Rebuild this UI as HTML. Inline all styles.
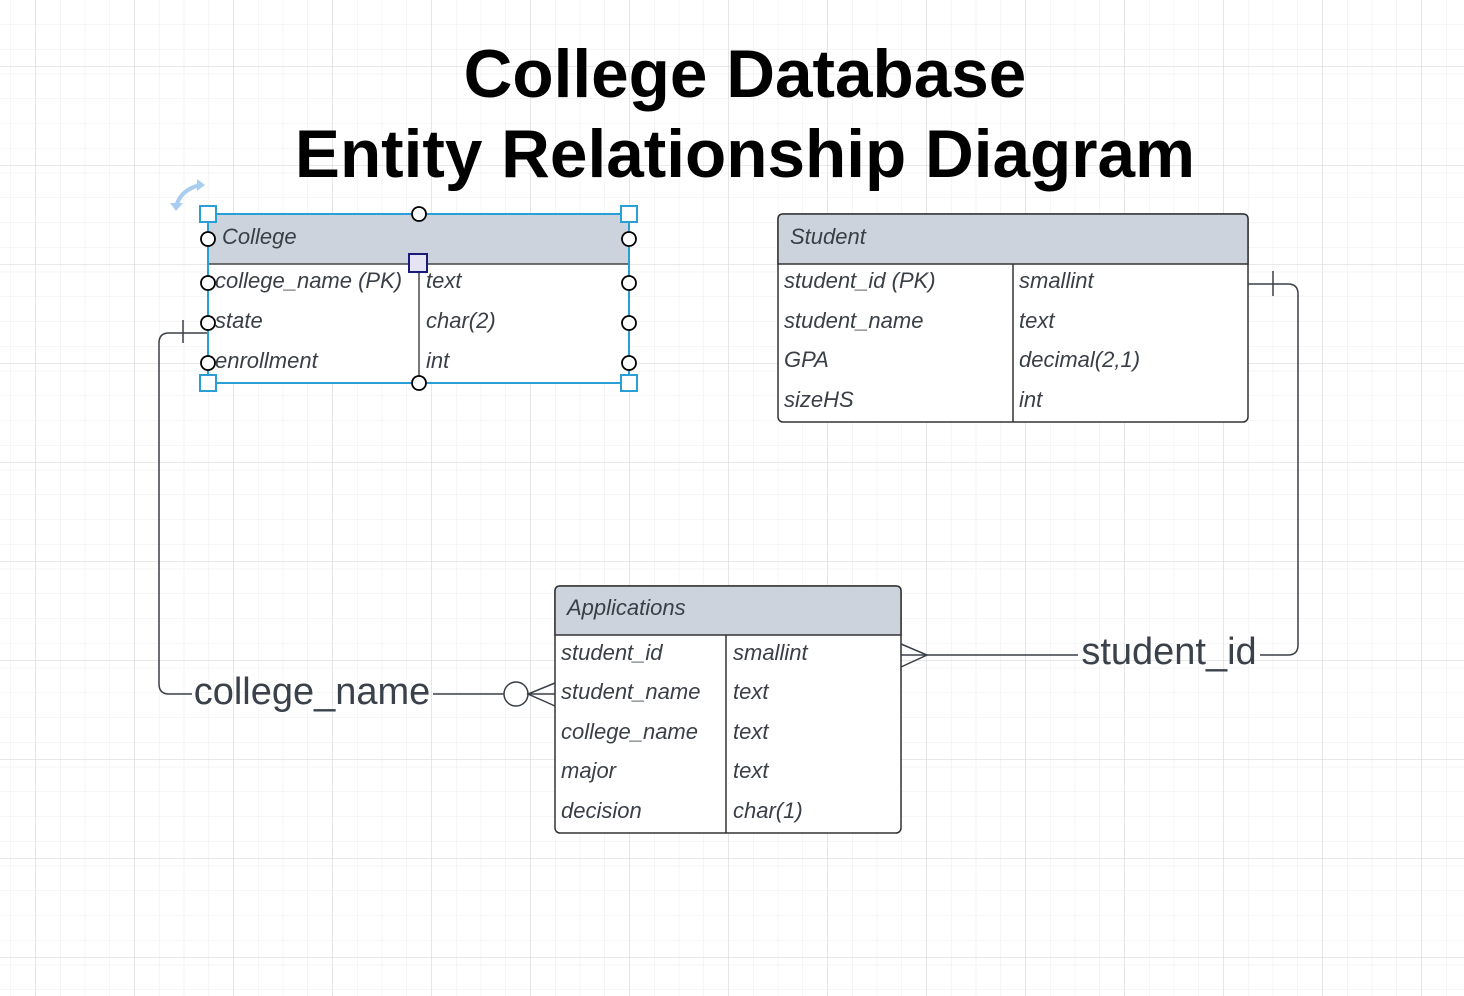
<!DOCTYPE html>
<html><head><style>
html,body{margin:0;padding:0;background:#fff;}
svg{display:block;}
text{font-family:"Liberation Sans",Arial,sans-serif;}
.f{font-style:italic;font-size:22px;fill:#3a3f47;}
</style></head><body>
<svg width="1464" height="996" viewBox="0 0 1464 996" xmlns="http://www.w3.org/2000/svg">
<defs>
<pattern id="g" x="10.5" y="-0.5" width="24.75" height="24.75" patternUnits="userSpaceOnUse">
<path d="M0 0V24.75M0 0H24.75" stroke="#ececec" stroke-width="1" fill="none"/>
</pattern>
<pattern id="G" x="35" y="66" width="99" height="99" patternUnits="userSpaceOnUse">
<path d="M0 0V99M0 0H99" stroke="#dcdcdc" stroke-width="1.2" fill="none"/>
</pattern>
</defs>
<rect width="1464" height="996" fill="url(#g)"/>
<rect width="1464" height="996" fill="url(#G)"/>

<text x="745" y="97" text-anchor="middle" font-weight="bold" font-size="67.5" fill="#000">College Database</text>
<text x="745" y="177" text-anchor="middle" font-weight="bold" font-size="67.5" fill="#000">Entity Relationship Diagram</text>

<g stroke="#3a3f47" stroke-width="1.5" fill="none">
<path d="M208 333 H169 Q159 333 159 343 V684 Q159 694 169 694 H192"/>
<path d="M433 694 H504"/>
<path d="M183 320 V343"/>
<circle cx="516" cy="694" r="12" fill="#fff"/>
<path d="M555 683 L528 694 L555 706 M528 694 H555"/>
<path d="M1248 284 H1288 Q1298 284 1298 294 V645 Q1298 655 1288 655 H1260"/>
<path d="M1078 655 H901"/>
<path d="M1273 271 V296"/>
<path d="M901 644 L927 655 L901 667"/>
</g>
<text x="312" y="704" text-anchor="middle" font-size="38" fill="#3a414a">college_name</text>
<text x="1169" y="664" text-anchor="middle" font-size="38" fill="#3a414a">student_id</text>

<rect x="208" y="214" width="421" height="169" fill="#fff" stroke="#333" stroke-width="1.2"/>
<rect x="208" y="214" width="421" height="50" fill="#cdd3dc"/>
<line x1="208" y1="264" x2="629" y2="264" stroke="#444" stroke-width="1.5"/>
<line x1="419" y1="264" x2="419" y2="383" stroke="#777" stroke-width="2"/>
<text class="f" x="222" y="244">College</text>
<text class="f" x="215" y="288">college_name (PK)</text>
<text class="f" x="215" y="328">state</text>
<text class="f" x="215" y="368">enrollment</text>
<text class="f" x="426" y="288">text</text>
<text class="f" x="426" y="328">char(2)</text>
<text class="f" x="426" y="368">int</text>
<rect x="208" y="214" width="421" height="169" fill="none" stroke="#2a9fd6" stroke-width="2"/>
<g fill="#fff" stroke="#2a9fd6" stroke-width="2">
<rect x="200" y="206" width="16" height="16"/><rect x="621" y="206" width="16" height="16"/>
<rect x="200" y="375" width="16" height="16"/><rect x="621" y="375" width="16" height="16"/>
</g>
<g fill="#fff" stroke="#000" stroke-width="1.8">
<circle cx="419" cy="214" r="7"/><circle cx="419" cy="383" r="7"/>
<circle cx="208" cy="239" r="7"/><circle cx="208" cy="283" r="7"/><circle cx="208" cy="323" r="7"/><circle cx="208" cy="363" r="7"/>
<circle cx="629" cy="239" r="7"/><circle cx="629" cy="283" r="7"/><circle cx="629" cy="323" r="7"/><circle cx="629" cy="363" r="7"/>
</g>
<rect x="409" y="254" width="18" height="18" fill="#e4e4f4" stroke="#1a1a7a" stroke-width="2"/>
<path d="M176 207 Q180 190 200 185" stroke="#a9cdef" stroke-width="4" fill="none"/>
<path d="M170 203 L176 211 L183 203 Z M197 179 L205 185 L197 191 Z" fill="#a9cdef"/>

<rect x="778" y="214" width="470" height="208" rx="5" fill="#fff" stroke="#333" stroke-width="1.5"/>
<path d="M783 214 H1243 Q1248 214 1248 219 V264 H778 V219 Q778 214 783 214Z" fill="#cdd3dc" stroke="#333" stroke-width="1.5"/>
<line x1="1013" y1="264" x2="1013" y2="422" stroke="#333" stroke-width="1.5"/>
<text class="f" x="790" y="244">Student</text>
<text class="f" x="784" y="288">student_id (PK)</text>
<text class="f" x="784" y="328">student_name</text>
<text class="f" x="784" y="367">GPA</text>
<text class="f" x="784" y="407">sizeHS</text>
<text class="f" x="1019" y="288">smallint</text>
<text class="f" x="1019" y="328">text</text>
<text class="f" x="1019" y="367">decimal(2,1)</text>
<text class="f" x="1019" y="407">int</text>

<rect x="555" y="586" width="346" height="247" rx="5" fill="#fff" stroke="#333" stroke-width="1.5"/>
<path d="M560 586 H896 Q901 586 901 591 V635 H555 V591 Q555 586 560 586Z" fill="#cdd3dc" stroke="#333" stroke-width="1.5"/>
<line x1="726" y1="635" x2="726" y2="833" stroke="#333" stroke-width="1.5"/>
<text class="f" x="567" y="615">Applications</text>
<text class="f" x="561" y="660">student_id</text>
<text class="f" x="561" y="699">student_name</text>
<text class="f" x="561" y="739">college_name</text>
<text class="f" x="561" y="778">major</text>
<text class="f" x="561" y="818">decision</text>
<text class="f" x="733" y="660">smallint</text>
<text class="f" x="733" y="699">text</text>
<text class="f" x="733" y="739">text</text>
<text class="f" x="733" y="778">text</text>
<text class="f" x="733" y="818">char(1)</text>
</svg>
</body></html>
